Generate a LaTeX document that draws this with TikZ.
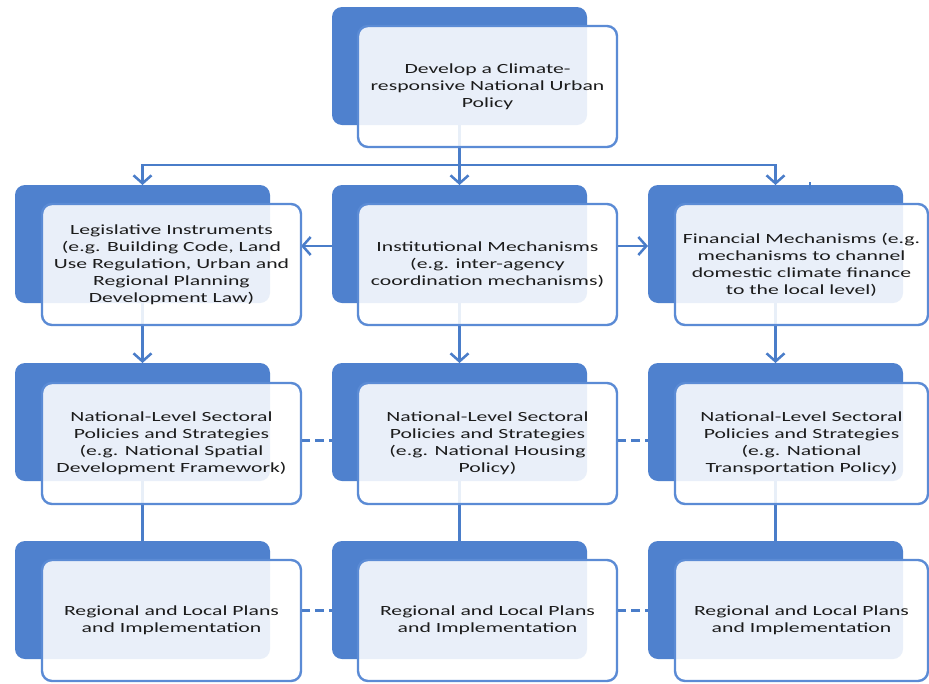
\documentclass[tikz,border=0pt]{standalone}
\usepackage{fontspec}
\setmainfont{Carlito}[FakeStretch=1.55]
\usetikzlibrary{arrows.meta}
\definecolor{boxblue}{HTML}{4F81CE}
\definecolor{edgeblue}{HTML}{5B8BD5}
\definecolor{linkblue}{HTML}{4A7DC9}
\definecolor{inktext}{HTML}{1C1C1C}
\pgfdeclarelayer{backlayer}
\pgfdeclarelayer{linklayer}
\pgfsetlayers{backlayer,linklayer,main}
\begin{document}
\begin{tikzpicture}[x=1pt,y=-1pt,
  backbox/.style={draw=none, fill=boxblue, rounded corners=10pt,
    minimum width=255pt, minimum height=118pt, anchor=north west,
    inner sep=0pt, outer sep=0pt},
  frontbox/.style={draw=edgeblue, line width=2.4pt, fill=white,
    fill opacity=0.88, text opacity=1, rounded corners=10pt,
    minimum width=259pt, minimum height=121pt, anchor=north west,
    align=center, text=inktext, font=\fontsize{14}{17}\selectfont,
    inner sep=2pt, outer sep=0pt},
  link/.style={draw=linkblue, line width=2.5pt},
  arr/.style={link, -{Straight Barb[length=8pt,width=18pt]}},
  dashlink/.style={link, dash pattern=on 9pt off 5pt}]
\useasboundingbox (0,0) rectangle (929,683);

% page ground and solid blue backing cards
\begin{pgfonlayer}{backlayer}
  \fill[white] (0,0) rectangle (929,683);
  \node[backbox] (b0)  at (332,7)   {};
  \node[backbox] (bL2) at (15,185)  {};
  \node[backbox] (bM2) at (332,185) {};
  \node[backbox] (bR2) at (648,185) {};
  \node[backbox] (bL3) at (15,363)  {};
  \node[backbox] (bM3) at (332,363) {};
  \node[backbox] (bR3) at (648,363) {};
  \node[backbox] (bL4) at (15,541)  {};
  \node[backbox] (bM4) at (332,541) {};
  \node[backbox] (bR4) at (648,541) {};
\end{pgfonlayer}

% outlined front cards with the labels
\node[frontbox] (f0) at (358,26)
  {Develop a Climate-\\responsive National Urban\\Policy};
\node[frontbox] (fL2) at (42,204)
  {Legislative Instruments\\(e.g. Building Code, Land\\Use Regulation, Urban and\\Regional Planning\\Development Law)};
\node[frontbox] (fM2) at (358,204)
  {Institutional Mechanisms\\(e.g. inter-agency\\coordination mechanisms)};
\node[frontbox, minimum width=253pt] (fR2) at (675,204)
  {Financial Mechanisms (e.g.\\mechanisms to channel\\domestic climate finance\\to the local level)};
\node[frontbox] (fL3) at (42,383)
  {National-Level Sectoral\\Policies and Strategies\\(e.g. National Spatial\\Development Framework)};
\node[frontbox] (fM3) at (358,383)
  {National-Level Sectoral\\Policies and Strategies\\(e.g. National Housing\\Policy)};
\node[frontbox, minimum width=253pt] (fR3) at (675,383)
  {National-Level Sectoral\\Policies and Strategies\\(e.g. National\\Transportation Policy)};
\node[frontbox] (fL4) at (42,560)
  {Regional and Local Plans\\and Implementation};
\node[frontbox] (fM4) at (358,560)
  {Regional and Local Plans\\and Implementation};
\node[frontbox, minimum width=253pt] (fR4) at (675,560)
  {Regional and Local Plans\\and Implementation};

% connectors, kept under the front cards
\begin{pgfonlayer}{linklayer}
  \coordinate (hub) at (459.5,165);
  \draw[link] (b0.south) -- (hub);
  \draw[link, line cap=rect] (bL2.north |- hub) -- (bR2.north |- hub);
  \draw[arr] (hub) -- (bM2.north);
  \draw[arr] (bL2.north |- hub) -- (bL2.north);
  \draw[arr] (bR2.north |- hub) -- (bR2.north);
  \draw[arr] ([yshift=-2pt]bM2.west) -- ([yshift=-2pt]bM2.west -| fL2.east);
  \draw[arr] ([yshift=-2pt]bR2.west -| fM2.east) -- ([yshift=-2pt]bR2.west);
  \draw[arr] (bL2.south) -- (bL3.north);
  \draw[arr] (bM2.south) -- (bM3.north);
  \draw[arr] (bR2.south) -- (bR3.north);
  \draw[link] (bL3.south) -- (bL4.north);
  \draw[link] (bM3.south) -- (bM4.north);
  \draw[link] (bR3.south) -- (bR4.north);
  \draw[dashlink] ([yshift=3pt]fL3.east) -- ([yshift=3pt]fL3.east -| bM3.west);
  \draw[dashlink] ([yshift=3pt]fM3.east) -- ([yshift=3pt]fM3.east -| bR3.west);
  \draw[dashlink] ([yshift=10pt]fL4.east) -- ([yshift=10pt]fL4.east -| bM4.west);
  \draw[dashlink] ([yshift=10pt]fM4.east) -- ([yshift=10pt]fM4.east -| bR4.west);
\end{pgfonlayer}

% short stray tick above the right card
\draw[linkblue, line width=1.2pt] (810,182) -- (810,189);
\end{tikzpicture}
\end{document}
